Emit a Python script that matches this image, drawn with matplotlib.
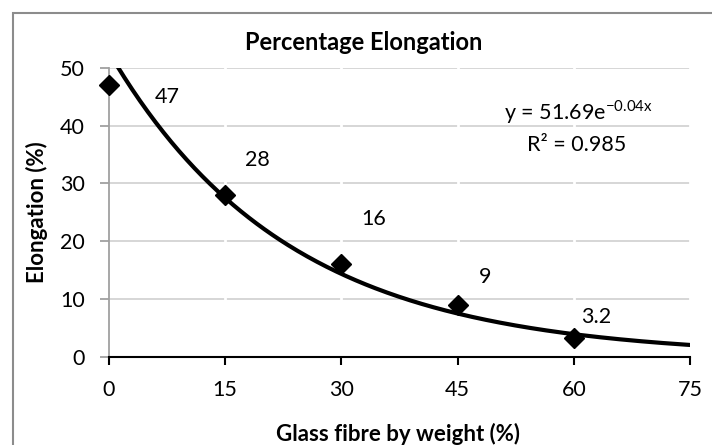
import numpy as np
import matplotlib.pyplot as plt
from matplotlib.patches import Rectangle

plt.rcParams['font.family'] = ['Lato', 'DejaVu Sans']

fibre = [0, 15, 30, 45, 60]
elongation = [47, 28, 16, 9, 3.2]
point_labels = ['47', '28', '16', '9', '3.2']
xticks = [0, 15, 30, 45, 60, 75]
yticks = [0, 10, 20, 30, 40, 50]

# label offsets in pixels (Excel labels were dragged around by hand)
label_offsets = [(58, -12), (32, 35), (32, 45), (28, 28), (22, 21)]

# exponential trendline, fitted on the points like Excel does
b, ln_a = np.polyfit(fibre, np.log(elongation), 1)
x_fit = np.linspace(0, 75, 300)
y_fit = np.exp(ln_a) * np.exp(b * x_fit)

W, H = 712, 445
fig = plt.figure(figsize=(W/100, H/100), dpi=100)
ax = fig.add_axes([109/W, 1-356.7/H, (690-109)/W, (356.7-68)/H])

# chart border
fig.patches.append(Rectangle((13/W, -0.1), 1.2, 1 - 13/H + 0.1,
                             transform=fig.transFigure, fill=False,
                             edgecolor='#8c8c8c', linewidth=1.5))

ax.set_axisbelow(True)
ax.grid(axis='y', color='#d0d0d0', linewidth=1.2)
for xt in xticks[1:]:
    ax.axvline(xt, color='white', linewidth=2, zorder=0.8)

ax.plot(x_fit, y_fit, color='black', linewidth=3, zorder=3)
ax.plot(fibre, elongation, linestyle='none', marker='D', markersize=10.5,
        color='black', zorder=4, clip_on=False)

for xv, yv, lab, off in zip(fibre, elongation, point_labels, label_offsets):
    ax.annotate(lab, (xv, yv), xytext=off, textcoords='offset pixels',
                ha='center', va='center', fontsize=15.5, zorder=5)

ax.set_xlim(0, 75)
ax.set_ylim(0, 50)
ax.set_xticks(xticks)
ax.set_yticks(yticks)

for s in ['top', 'right']:
    ax.spines[s].set_visible(False)
ax.spines['left'].set_color('#a0a0a0')
ax.spines['left'].set_linewidth(1.3)
ax.spines['bottom'].set_color('black')
ax.spines['bottom'].set_linewidth(1.5)
ax.spines['bottom'].set_zorder(6)

ax.tick_params(axis='y', colors='#a0a0a0', length=6.5, width=1.3, pad=11,
               labelcolor='black', labelsize=15.5)
ax.tick_params(axis='x', colors='black', length=6, width=1.5, pad=11,
               labelsize=15.5)

fig.text(578/W, 1-112/H, r'y = 51.69e$^{\mathregular{-0.04x}}$', ha='center',
         va='center', fontsize=15.5)
fig.text(577/W, 1-145/H, 'R² = 0.985', ha='center', va='center', fontsize=15.5)

fig.text(364/W, 1-42/H, 'Percentage Elongation', ha='center', va='center',
         fontsize=17, fontweight='bold')
fig.text(37/W, 1-212/H, 'Elongation (%)', ha='center', va='center',
         rotation=90, fontsize=16, fontweight='bold')
fig.text(398/W, 1-434/H, 'Glass fibre by weight (%)', ha='center', va='center',
         fontsize=16, fontweight='bold')

fig.savefig('out.png', dpi=100)
